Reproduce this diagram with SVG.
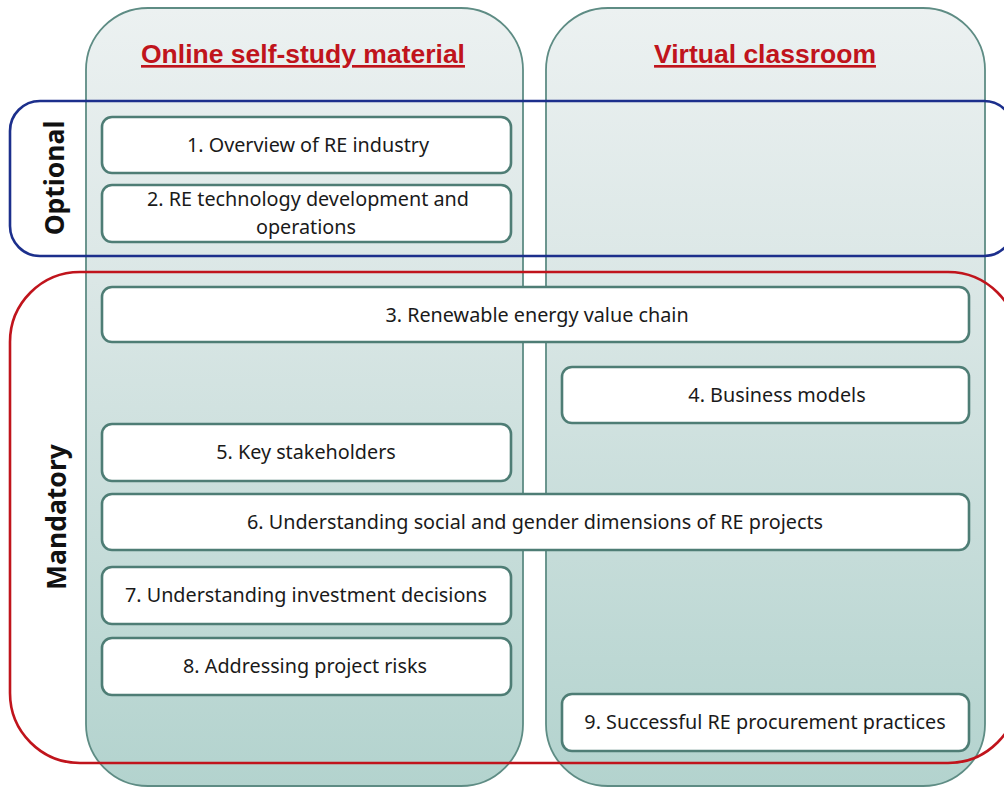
<svg xmlns="http://www.w3.org/2000/svg" width="1004" height="787" viewBox="0 0 1004 787">
  <style>
    .col { stroke: #5e8c84; stroke-width: 1.8; fill: url(#colFill); }
    .box rect { fill: #ffffff; stroke: #4e7d75; stroke-width: 2.6; }
    .box text { font-family: "Noto Sans", "Open Sans", sans-serif; font-size: 19.8px; fill: #1a1a1a; text-anchor: middle; }
    .title { font-family: "Liberation Sans", Arial, sans-serif; font-weight: bold; font-size: 26.5px; fill: #c0141c; text-anchor: middle; text-decoration: underline; }
    .side { font-family: "Noto Sans", "Open Sans", sans-serif; font-weight: bold; font-size: 26.5px; fill: #111111; text-anchor: middle; }
    .grp { fill: none; stroke-width: 2.6; }
  </style>
  <defs>
    <linearGradient id="colFill" x1="0" y1="0" x2="0" y2="1">
      <stop offset="0" stop-color="#ecf1f1"/>
      <stop offset="0.35" stop-color="#dbe7e6"/>
      <stop offset="1" stop-color="#b3d3ce"/>
    </linearGradient>
  </defs>

  <rect width="1004" height="787" fill="#ffffff"/>

  <!-- delivery-mode columns -->
  <g id="col-online">
    <rect class="col" x="86" y="8" width="437" height="778" rx="62" ry="62"/>
    <text class="title" x="303" y="63">Online self-study material</text>
  </g>
  <g id="col-virtual">
    <rect class="col" x="546" y="8" width="439" height="778" rx="62" ry="62"/>
    <text class="title" x="765" y="63">Virtual classroom</text>
  </g>

  <!-- grouping outlines -->
  <g id="grp-optional">
    <rect class="grp" stroke="#1c2f8c" x="10" y="101" width="1004" height="155" rx="30" ry="30"/>
    <text class="side" transform="translate(64,178) rotate(-90)">Optional</text>
  </g>
  <g id="grp-mandatory">
    <rect class="grp" stroke="#c0141c" x="10" y="272" width="1008" height="491" rx="70" ry="70"/>
    <text class="side" transform="translate(66,517) rotate(-90)">Mandatory</text>
  </g>

  <!-- modules -->
  <g id="m1" class="box">
    <rect x="102" y="117" width="409" height="56" rx="10"/>
    <text x="308" y="152">1. Overview of RE industry</text>
  </g>
  <g id="m2" class="box">
    <rect x="102" y="185" width="409" height="57" rx="10"/>
    <text x="308" y="206">2. RE technology development and</text>
    <text x="306" y="234">operations</text>
  </g>
  <g id="m3" class="box">
    <rect x="102" y="287" width="867" height="55" rx="10"/>
    <text x="537" y="322">3. Renewable energy value chain</text>
  </g>
  <g id="m4" class="box">
    <rect x="562" y="367" width="407" height="56" rx="10"/>
    <text x="777" y="402">4. Business models</text>
  </g>
  <g id="m5" class="box">
    <rect x="102" y="424" width="409" height="57" rx="10"/>
    <text x="306" y="459">5. Key stakeholders</text>
  </g>
  <g id="m6" class="box">
    <rect x="102" y="494" width="867" height="56" rx="10"/>
    <text x="535" y="529">6. Understanding social and gender dimensions of RE projects</text>
  </g>
  <g id="m7" class="box">
    <rect x="102" y="567" width="409" height="57" rx="10"/>
    <text x="306" y="602">7. Understanding investment decisions</text>
  </g>
  <g id="m8" class="box">
    <rect x="102" y="638" width="409" height="57" rx="10"/>
    <text x="305" y="673">8. Addressing project risks</text>
  </g>
  <g id="m9" class="box">
    <rect x="562" y="694" width="407" height="57" rx="10"/>
    <text x="765" y="729">9. Successful RE procurement practices</text>
  </g>
</svg>
